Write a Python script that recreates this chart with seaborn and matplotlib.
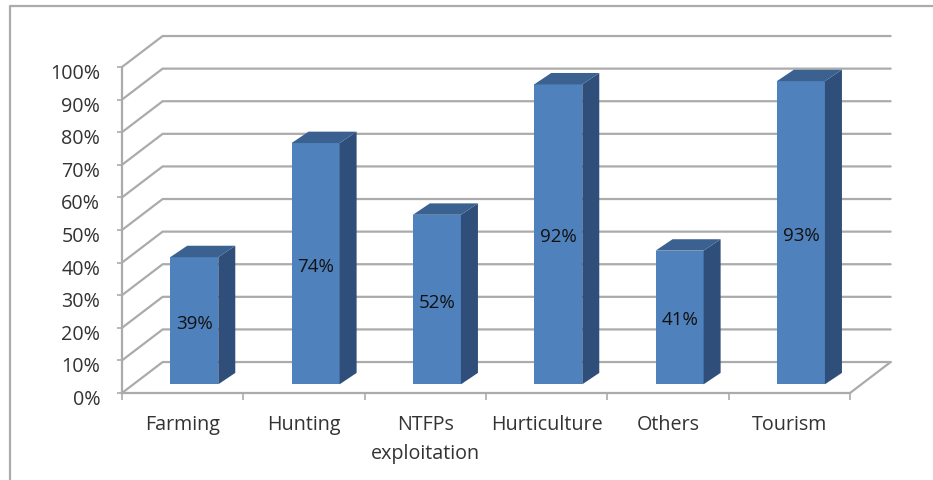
import matplotlib
matplotlib.use("Agg")
import matplotlib.pyplot as plt
import matplotlib.transforms as mtrans
from matplotlib.lines import Line2D
from matplotlib.patches import Polygon
import pandas as pd
import seaborn as sns

categories = ["Farming", "Hunting", "NTFPs\nexploitation", "Hurticulture", "Others", "Tourism"]
shares = [39, 74, 52, 92, 41, 93]
percent_ticks = list(range(0, 101, 10))

FRONT = "#4F81BD"
SIDE = "#2F4F7A"
TOP = "#3A618F"
GRID = "#ABABAB"
TEXT = "#333333"

sns.set_style("white")
plt.rcParams["font.family"] = ["Open Sans", "DejaVu Sans"]

W, H = 933, 481
fig = plt.figure(figsize=(W / 100, H / 100), dpi=100)
# front plane of the pseudo-3D box, expressed as figure fractions
ax = fig.add_axes([122 / W, 1 - 394 / H, (850 - 122) / W, (394 - 68) / H])

frame = pd.DataFrame({"activity": categories, "share": shares})
sns.barplot(data=frame, x="activity", y="share", color=FRONT, saturation=1,
            width=0.396, gap=0, ax=ax, legend=False, zorder=3)

ax.set_xlim(-0.5, 5.5)
ax.set_ylim(0, 100)
ax.set_xlabel("")
ax.set_ylabel("")

# Depth of the box and of the columns, in data units
wall_dx, wall_dy = 0.335, 9.5
bar_dx, bar_dy = 0.14, 3.5

# Receding gridlines: diagonal from the front edge, then along the back wall
for p in percent_ticks:
    ax.plot([-0.5, -0.5 + wall_dx, 5.5 + wall_dx], [p, p + wall_dy, p + wall_dy],
            color=GRID, lw=1.6, clip_on=False, zorder=1, solid_joinstyle="miter")
ax.plot([5.5, 5.5 + wall_dx], [0, wall_dy], color=GRID, lw=1.6, clip_on=False, zorder=1)

# Columns stand partway into the floor
shift = ax.transData + mtrans.ScaledTranslation(11.6 / 100, 8.7 / 100, fig.dpi_scale_trans)
label_shift = shift + mtrans.ScaledTranslation(0, -2 / 100, fig.dpi_scale_trans)
for bar, share in zip(ax.containers[0], shares):
    bar.set_transform(shift)
    bar.set_clip_on(False)
    bar.set_edgecolor("none")
    x0, x1 = bar.get_x(), bar.get_x() + bar.get_width()
    ax.add_patch(Polygon([(x1, 0), (x1 + bar_dx, bar_dy), (x1 + bar_dx, share + bar_dy), (x1, share)],
                         closed=True, fc=SIDE, ec="none", transform=shift, clip_on=False, zorder=3))
    ax.add_patch(Polygon([(x0, share), (x0 + bar_dx, share + bar_dy), (x1 + bar_dx, share + bar_dy), (x1, share)],
                         closed=True, fc=TOP, ec="none", transform=shift, clip_on=False, zorder=3))
    ax.text((x0 + x1) / 2, share / 2, f"{share}%", transform=label_shift, ha="center", va="center",
            fontsize=13.5, color="#111111", zorder=4)

# Axes, ticks and tick labels
sns.despine(ax=ax, top=True, right=True)
for side in ("left", "bottom"):
    ax.spines[side].set_color(GRID)
    ax.spines[side].set_linewidth(1.6)
    ax.spines[side].set_zorder(2)

ax.set_yticks(percent_ticks)
ax.set_yticklabels([f"{p}%" for p in percent_ticks], fontsize=14.2, color=TEXT, va="top")
ax.tick_params(axis="y", left=True, length=3.6, width=1.2, color=GRID, pad=12)
nudge = mtrans.ScaledTranslation(0, 4 / 100, fig.dpi_scale_trans)
for label in ax.get_yticklabels():
    label.set_transform(label.get_transform() + nudge)

ax.set_xticks(range(len(categories)))
ax.set_xticklabels(categories, fontsize=14.2, color=TEXT, linespacing=1.62)
ax.set_xticks([i - 0.5 for i in range(len(categories) + 1)], minor=True)
ax.tick_params(axis="x", which="major", bottom=False, length=0, pad=15)
ax.tick_params(axis="x", which="minor", bottom=True, length=5, width=1.2, color=GRID)

# Outer chart frame, open on the right and at the bottom
fig.add_artist(Line2D([10 / W, 10 / W, 1], [0, 1 - 7 / H, 1 - 7 / H], color=GRID, lw=1.6))

fig.savefig("out.png", dpi=100, facecolor="white")
